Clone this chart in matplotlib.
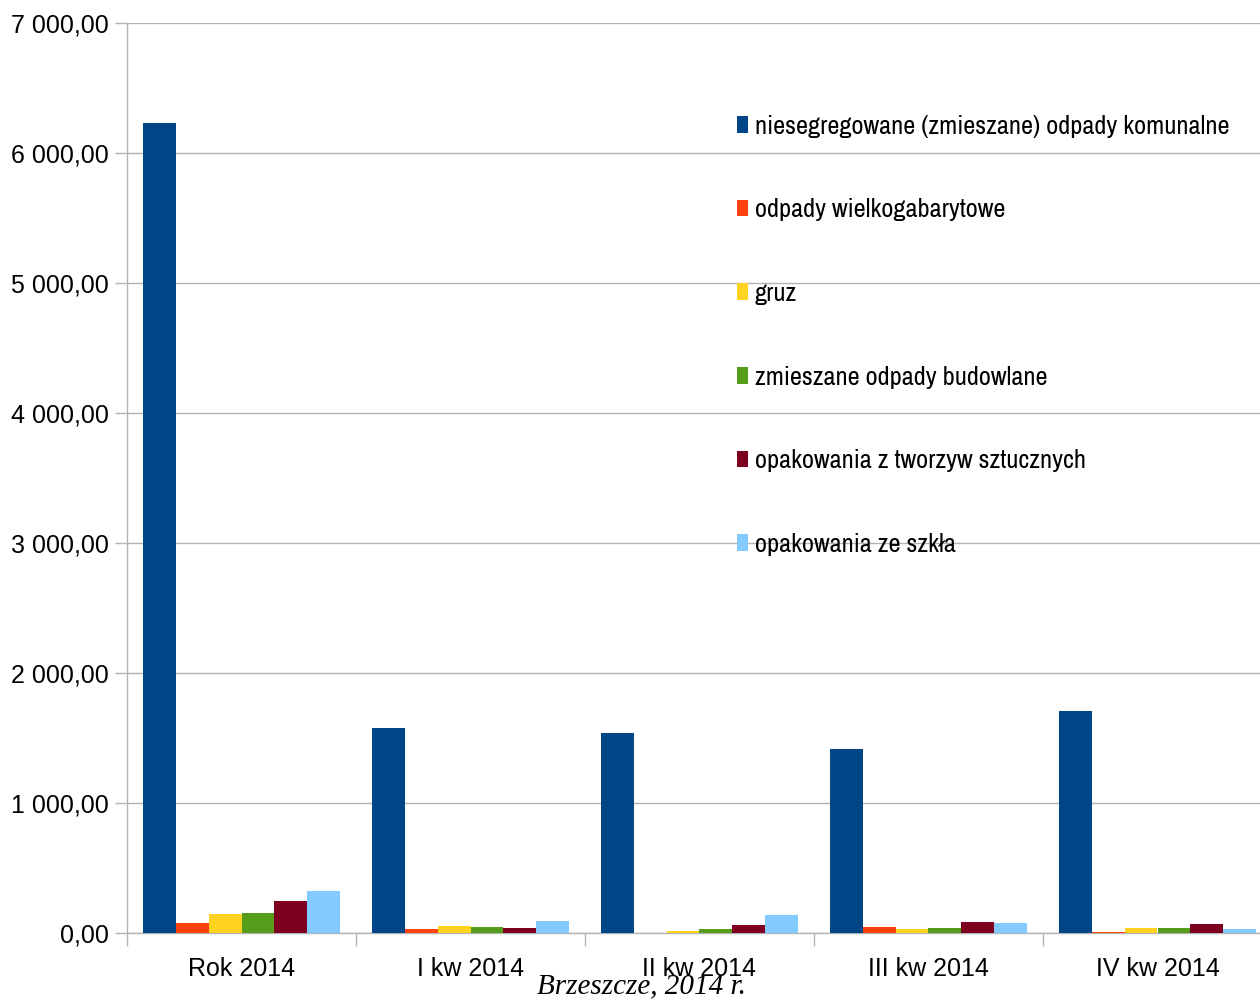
import numpy as np
import matplotlib.pyplot as plt
from matplotlib.patches import Patch

# dane
kategorie = ['Rok 2014', 'I kw 2014', 'II kw 2014', 'III kw 2014', 'IV kw 2014']
serie = [
    'niesegregowane (zmieszane) odpady komunalne',
    'odpady wielkogabarytowe',
    'gruz',
    'zmieszane odpady budowlane',
    'opakowania z tworzyw sztucznych',
    'opakowania ze szkła',
]
zmieszane = [6231, 1577, 1538, 1415, 1708]
wielkogabarytowe = [75, 31, 3, 44, 6]
gruz = [143, 54, 13, 28, 36]
budowlane = [151, 44, 28, 36, 36]
tworzywa = [243, 36, 59, 82, 67]
szklo = [320, 92, 136, 74, 28]
y_ticks = [0, 1000, 2000, 3000, 4000, 5000, 6000, 7000]

kolory = ['#004586', '#ff420e', '#ffd320', '#579d1c', '#7e0021', '#83caff']
wartosci = [zmieszane, wielkogabarytowe, gruz, budowlane, tworzywa, szklo]

fig = plt.figure(figsize=(12.6, 9.99), dpi=100)
ax = fig.add_axes([127 / 1260, 66 / 999, 1133 / 1260, 910 / 999])

x = np.arange(len(kategorie))
szer = 0.857 / 6
for i, (vals, kol) in enumerate(zip(wartosci, kolory)):
    ax.bar(x - 0.857 / 2 + szer * (i + 0.5), vals, szer, color=kol, zorder=3)

ax.set_yticks(y_ticks)
ax.set_yticklabels([f'{v:,.2f}'.replace(',', ' ').replace('.', ',') for v in y_ticks],
                   fontsize=18, family='Liberation Sans')
ax.grid(axis='y', color='#b3b3b3', linewidth=1, zorder=0)

ax.set_xticks(x)
ax.set_xticklabels(kategorie, fontsize=18, family='Liberation Sans')
ax.tick_params(axis='x', length=0, pad=17)
ax.set_xticks(np.arange(len(kategorie) + 1) - 0.5, minor=True)
ax.tick_params(axis='x', which='minor', length=9, color='#b3b3b3', width=1)
ax.tick_params(axis='y', length=9, color='#b3b3b3', width=1, pad=4)

# granice ustawione po tickach, bo set_xticks rozszerza zakres
ax.set_ylim(0, 7000)
ax.set_xlim(-0.5, 4.5 - 12 / 229)

for s in ['top', 'right']:
    ax.spines[s].set_visible(False)
for s in ['left', 'bottom']:
    ax.spines[s].set_color('#b3b3b3')
    ax.spines[s].set_linewidth(1)

uchwyty = [Patch(facecolor=k, edgecolor='none') for k in kolory]
ax.legend(uchwyty, serie, loc='upper left', bbox_to_anchor=(599 / 1133, 1 - 81 / 910),
          frameon=False, handlelength=0.45, handleheight=0.6, handletextpad=0.25,
          labelspacing=2.3, borderaxespad=0,
          prop={'family': ['Archivo Narrow', 'Liberation Sans Narrow', 'DejaVu Sans'], 'size': 19})

fig.text(641 / 1260, 1 - 986 / 999, 'Brzeszcze, 2014 r.', ha='center', va='center',
         fontsize=21, style='italic', family='Liberation Serif')

fig.savefig('out.png', dpi=100)
